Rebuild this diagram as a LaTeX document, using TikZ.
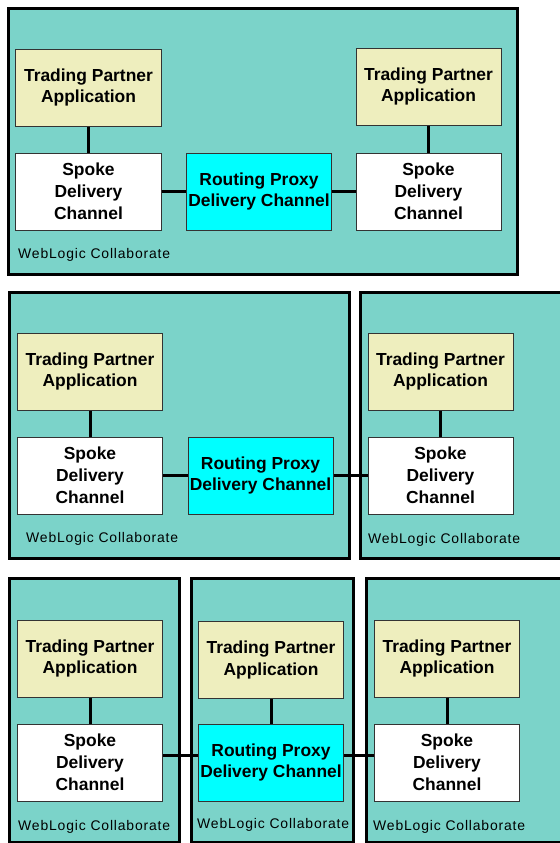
\documentclass[tikz,border=0pt]{standalone}
\usepackage{fontspec}
\setmainfont{Liberation Sans}
\usetikzlibrary{positioning}
\definecolor{wlcc}{HTML}{7BD3C9}
\definecolor{tpac}{HTML}{EEEEBE}
\definecolor{proxyc}{RGB}{0,255,255}
\colorlet{spokec}{white}

\tikzset{
  panel/.style={anchor=north west, draw=black, line width=2.5bp, fill=wlcc, shape=rectangle, inner sep=0pt},
  box/.style={draw=black!80, line width=1bp, shape=rectangle, minimum width=145bp, minimum height=77bp,
    inner sep=0pt, align=center, font=\fontsize{17.5}{22}\selectfont\bfseries},
  tpa/.style={box, fill=tpac},
  spoke/.style={box, fill=spokec},
  proxy/.style={box, fill=proxyc},
  wlc/.style={anchor=west, inner sep=0pt, font=\fontsize{14}{16}\selectfont\addfontfeature{LetterSpace=6}},
  link/.style={line width=3bp}
}

\begin{document}
\begin{tikzpicture}[x=1bp,y=-1bp]
\clip (0,0) rectangle (560,843);
\fill[white] (0,0) rectangle (560,843);

% one server
\node[panel, minimum width=509bp, minimum height=266bp] (wlc1) at (7,7) {};
\node[tpa] (tpa1) at (88.5,87.5) {Trading Partner\\Application};
\node[spoke] (spoke1) at (88.5,191.5) {Spoke\\Delivery\\Channel};
\node[proxy] (proxy1) at (259,191.5) {Routing Proxy\\Delivery Channel};
\node[tpa] (tpa2) at (428.5,86.5) {Trading Partner\\Application};
\node[spoke] (spoke2) at (428.5,191.5) {Spoke\\Delivery\\Channel};
\node[wlc] (lab1) at (18,255) {WebLogic Collaborate};
\draw[link] (tpa1) -- (spoke1);
\draw[link] (tpa2) -- (spoke2);
\draw[link] (spoke1) -- (proxy1);
\draw[link] (proxy1) -- (spoke2);

% two servers
\node[panel, minimum width=340bp, minimum height=266bp] (wlc2) at (8,291) {};
\node[panel, minimum width=220bp, minimum height=266bp] (wlc3) at (359,291) {};
\node[tpa] (tpa3) at (90,371.5) {Trading Partner\\Application};
\node[spoke] (spoke3) at (90,475.5) {Spoke\\Delivery\\Channel};
\node[proxy] (proxy2) at (260.5,475.5) {Routing Proxy\\Delivery Channel};
\node[tpa] (tpa4) at (440.5,371.5) {Trading Partner\\Application};
\node[spoke] (spoke4) at (440.5,475.5) {Spoke\\Delivery\\Channel};
\node[wlc] (lab2) at (26,539) {WebLogic Collaborate};
\node[wlc] (lab3) at (368,540) {WebLogic Collaborate};
\draw[link] (tpa3) -- (spoke3);
\draw[link] (tpa4) -- (spoke4);
\draw[link] (spoke3) -- (proxy2);
\draw[link] (proxy2) -- (spoke4);

% three servers
\node[panel, minimum width=170bp, minimum height=264bp] (wlc4) at (8,577) {};
\node[panel, minimum width=162bp, minimum height=264bp] (wlc5) at (190,577) {};
\node[panel, minimum width=220bp, minimum height=264bp] (wlc6) at (365,577) {};
\node[tpa] (tpa5) at (90,658.5) {Trading Partner\\Application};
\node[spoke] (spoke5) at (90,762.5) {Spoke\\Delivery\\Channel};
\node[tpa] (tpa6) at (271,660) {Trading Partner\\Application};
\node[proxy] (proxy3) at (271,762.5) {Routing Proxy\\Delivery Channel};
\node[tpa] (tpa7) at (447,658.5) {Trading Partner\\Application};
\node[spoke] (spoke7) at (447,762.5) {Spoke\\Delivery\\Channel};
\node[wlc] (lab4) at (18,827) {WebLogic Collaborate};
\node[wlc] (lab5) at (197,825) {WebLogic Collaborate};
\node[wlc] (lab6) at (373,827) {WebLogic Collaborate};
\draw[link] (tpa5) -- (spoke5);
\draw[link] (tpa6) -- (proxy3);
\draw[link] (tpa7) -- (spoke7);
\draw[link] ([yshift=7bp]spoke5.east) -- ([yshift=7bp]proxy3.west);
\draw[link] ([yshift=7bp]proxy3.east) -- ([yshift=7bp]spoke7.west);

\end{tikzpicture}
\end{document}
